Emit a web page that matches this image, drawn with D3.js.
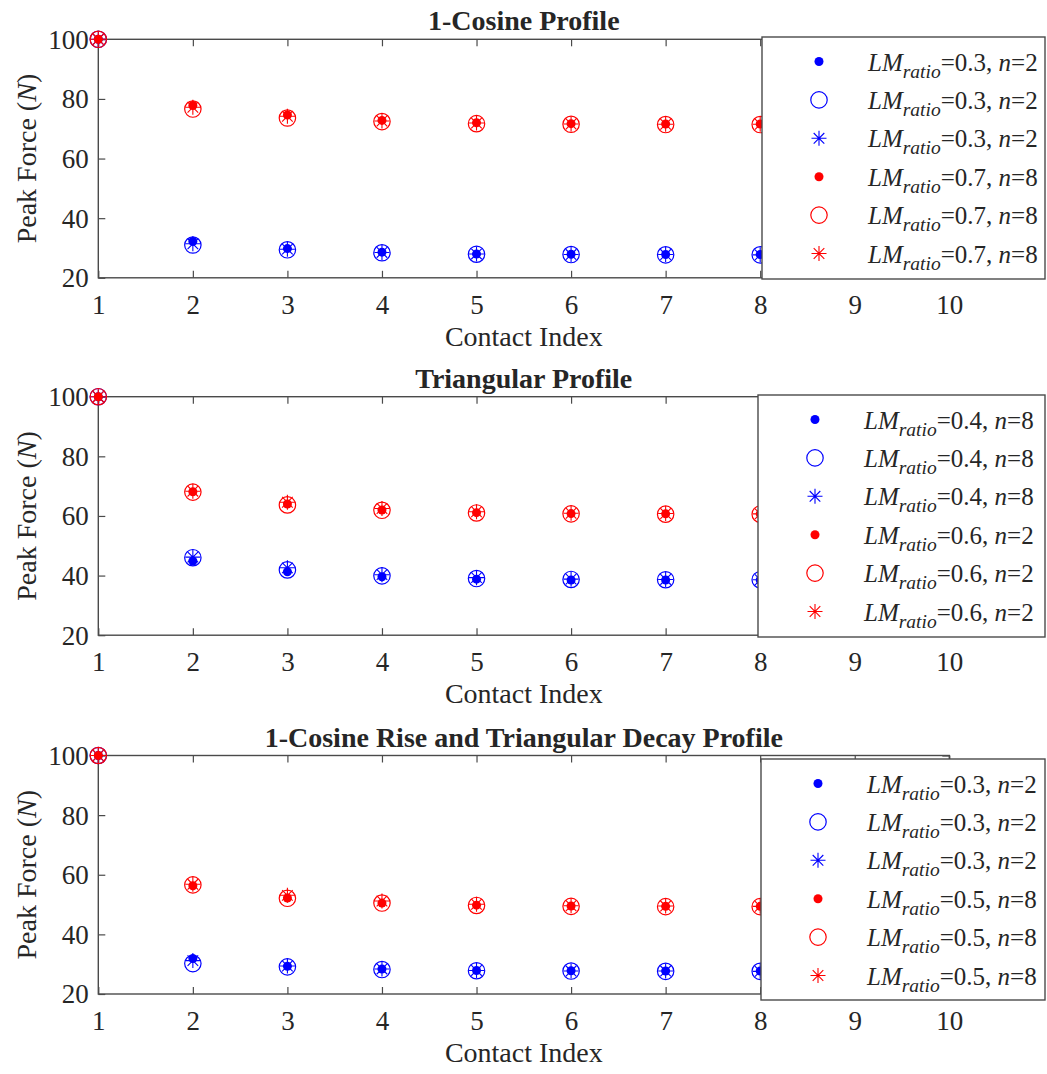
<!DOCTYPE html>
<html>
<head>
<meta charset="utf-8">
<script src="https://cdn.jsdelivr.net/npm/d3@7"></script>
<style>
  html, body { margin: 0; padding: 0; background: #fff; }
  svg { display: block; }
  text { font-family: "Liberation Serif", "Times New Roman", serif; fill: #262626; }
</style>
</head>
<body>
<svg id="chart" width="1047" height="1074"></svg>
<script>
// Contact indices on the x axis
const contactIndex = [1, 2, 3, 4, 5, 6, 7, 8, 9, 10];
const yTicks = [20, 40, 60, 80, 100];

// 1-Cosine profile: LM_ratio = 0.3, n = 2 (blue) and LM_ratio = 0.7, n = 8 (red)
const cosDotA  = [100, 32.2, 29.8, 28.6, 28.0, 27.9, 27.8, 27.8, 27.8, 27.8];
const cosCircA = [100, 31.0, 29.4, 28.4, 27.9, 27.8, 27.7, 27.7, 27.7, 27.7];
const cosStarA = [100, 31.4, 29.6, 28.5, 28.0, 27.8, 27.8, 27.7, 27.7, 27.7];
const cosDotB  = [100, 77.8, 74.6, 72.8, 72.0, 71.7, 71.6, 71.6, 71.6, 71.6];
const cosCircB = [100, 76.6, 73.6, 72.4, 71.7, 71.5, 71.4, 71.4, 71.4, 71.4];
const cosStarB = [100, 77.2, 74.2, 72.6, 71.9, 71.6, 71.5, 71.5, 71.5, 71.5];

// Triangular profile: LM_ratio = 0.4, n = 8 (blue) and LM_ratio = 0.6, n = 2 (red)
const triDotA  = [100, 44.9, 41.3, 39.6, 38.8, 38.5, 38.5, 38.5, 38.5, 38.5];
const triCircA = [100, 46.0, 41.9, 39.9, 39.0, 38.7, 38.6, 38.6, 38.6, 38.6];
const triStarA = [100, 46.2, 42.6, 40.3, 39.3, 38.8, 38.7, 38.6, 38.6, 38.6];
const triDotB  = [100, 68.1, 64.0, 62.0, 61.1, 60.8, 60.7, 60.7, 60.7, 60.7];
const triCircB = [100, 68.0, 63.7, 61.9, 61.0, 60.7, 60.6, 60.6, 60.6, 60.6];
const triStarB = [100, 68.3, 64.6, 62.5, 61.4, 60.9, 60.8, 60.7, 60.7, 60.7];

// 1-Cosine rise / triangular decay: LM_ratio = 0.3, n = 2 (blue) and LM_ratio = 0.5, n = 8 (red)
const ctDotA  = [100, 31.9, 29.3, 28.4, 27.9, 27.8, 27.7, 27.7, 27.7, 27.7];
const ctCircA = [100, 30.2, 29.1, 28.2, 27.8, 27.7, 27.6, 27.6, 27.6, 27.6];
const ctStarA = [100, 31.2, 29.4, 28.4, 27.9, 27.7, 27.7, 27.6, 27.6, 27.6];
const ctDotB  = [100, 56.3, 52.2, 50.5, 49.8, 49.5, 49.4, 49.4, 49.4, 49.4];
const ctCircB = [100, 56.6, 52.1, 50.5, 49.7, 49.4, 49.3, 49.3, 49.3, 49.3];
const ctStarB = [100, 56.8, 53.1, 51.2, 50.1, 49.6, 49.5, 49.4, 49.4, 49.4];

// Panel titles and legend parameters
const titles = ["1-Cosine Profile", "Triangular Profile", "1-Cosine Rise and Triangular Decay Profile"];
const legendRatios = [["0.3", "0.7"], ["0.4", "0.6"], ["0.3", "0.5"]];
const legendN = [["2", "8"], ["8", "2"], ["2", "8"]];

const panelSeries = [
  [cosDotA, cosCircA, cosStarA, cosDotB, cosCircB, cosStarB],
  [triDotA, triCircA, triStarA, triDotB, triCircB, triStarB],
  [ctDotA, ctCircA, ctStarA, ctDotB, ctCircB, ctStarB]
];
const markerKinds = ["dot", "circle", "star", "dot", "circle", "star"];
const seriesColors = ["#0000ff", "#0000ff", "#0000ff", "#ff0000", "#ff0000", "#ff0000"];

// Layout
const axisColor = "#4a4a4a";
const panelTops = [39.3, 396.7, 755.5];
const panelH = 238.5;
const legendBoxes = [
  { x: 762, y: 37, w: 283, h: 242 },
  { x: 758, y: 395, w: 287, h: 242 },
  { x: 761, y: 759, w: 284, h: 241 }
];

const svg = d3.select("#chart");
const x = d3.scaleLinear().domain([1, 10]).range([98.3, 949.3]);

// Asterisk path: plus and cross overlaid
function starPath(s) {
  const d = s * Math.SQRT1_2;
  return `M${-s},0L${s},0M0,${-s}L0,${s}M${-d},${-d}L${d},${d}M${-d},${d}L${d},${-d}`;
}

function drawMarker(g, kind, color) {
  if (kind === "dot") {
    g.append("circle").attr("r", 4.5).attr("fill", color);
  } else if (kind === "circle") {
    g.append("circle").attr("r", 8.2).attr("fill", "none").attr("stroke", color).attr("stroke-width", 1.2);
  } else {
    g.append("path").attr("d", starPath(7.5)).attr("fill", "none").attr("stroke", color).attr("stroke-width", 1.1);
  }
}

panelSeries.forEach((series, p) => {
  const top = panelTops[p];
  const y = d3.scaleLinear().domain([20, 100]).range([top + panelH, top]);
  const g = svg.append("g");

  // Ticks (inward) on all four sides
  const bottomAxis = g.append("g")
    .attr("transform", `translate(0,${top + panelH})`)
    .call(d3.axisBottom(x).tickValues(contactIndex).tickSizeInner(-7).tickSizeOuter(0).tickPadding(17).tickFormat(d3.format("d")));
  const topAxis = g.append("g")
    .attr("transform", `translate(0,${top})`)
    .call(d3.axisTop(x).tickValues(contactIndex).tickSizeInner(-7).tickSizeOuter(0).tickFormat(""));
  const leftAxis = g.append("g")
    .attr("transform", `translate(${x(1)},0)`)
    .call(d3.axisLeft(y).tickValues(yTicks).tickSizeInner(-7).tickSizeOuter(0).tickPadding(9.5).tickFormat(d3.format("d")));
  const rightAxis = g.append("g")
    .attr("transform", `translate(${x(10)},0)`)
    .call(d3.axisRight(y).tickValues(yTicks).tickSizeInner(-7).tickSizeOuter(0).tickFormat(""));

  [bottomAxis, topAxis, leftAxis, rightAxis].forEach(a => {
    a.attr("font-family", null).attr("font-size", null);
    a.select(".domain").remove();
    a.selectAll("line").attr("stroke", axisColor).attr("stroke-width", 1.2);
    a.selectAll("text").attr("fill", "#262626").style("font-family", "'Liberation Serif', serif").style("font-size", "27px");
  });
  leftAxis.selectAll("text").attr("dy", "0.33em");

  // Axes box
  g.append("rect")
    .attr("x", x(1)).attr("y", top)
    .attr("width", x(10) - x(1)).attr("height", panelH)
    .attr("fill", "none").attr("stroke", axisColor).attr("stroke-width", 1.4);

  // Title
  g.append("text")
    .attr("x", (x(1) + x(10)) / 2).attr("y", top - 9)
    .attr("text-anchor", "middle")
    .style("font-size", "28px").style("font-weight", "bold")
    .attr("fill", "#000")
    .text(titles[p]);

  // Axis labels
  g.append("text")
    .attr("x", (x(1) + x(10)) / 2).attr("y", top + panelH + 68)
    .attr("text-anchor", "middle")
    .style("font-size", "28px")
    .text("Contact Index");

  const yl = g.append("text")
    .attr("transform", `translate(36,${top + panelH / 2}) rotate(-90)`)
    .attr("text-anchor", "middle")
    .style("font-size", "28px");
  yl.append("tspan").text("Peak Force (");
  yl.append("tspan").style("font-style", "italic").text("N");
  yl.append("tspan").text(")");

  // Data markers
  series.forEach((vals, s) => {
    const sg = g.append("g");
    vals.forEach((v, i) => {
      const m = sg.append("g").attr("transform", `translate(${x(contactIndex[i])},${y(v)})`);
      drawMarker(m, markerKinds[s], seriesColors[s]);
    });
  });

  // Legend
  const lb = legendBoxes[p];
  const lg = g.append("g");
  lg.append("rect")
    .attr("x", lb.x).attr("y", lb.y).attr("width", lb.w).attr("height", lb.h)
    .attr("fill", "#fff").attr("stroke", axisColor).attr("stroke-width", 1.4);
  markerKinds.forEach((kind, s) => {
    const rowY = lb.y + 24.5 + s * 38.4;
    const m = lg.append("g").attr("transform", `translate(${lb.x + 57},${rowY})`);
    drawMarker(m, kind, seriesColors[s]);
    const grp = s < 3 ? 0 : 1;
    const t = lg.append("text")
      .attr("x", lb.x + 106).attr("y", rowY + 9)
      .style("font-size", "25px");
    t.append("tspan").style("font-style", "italic").text("LM");
    t.append("tspan").style("font-style", "italic").style("font-size", "19.5px").attr("dy", 7).text("ratio");
    t.append("tspan").attr("dy", -7).text(`=${legendRatios[p][grp]}, `);
    t.append("tspan").style("font-style", "italic").text("n");
    t.append("tspan").text(`=${legendN[p][grp]}`);
  });
});
</script>
</body>
</html>
